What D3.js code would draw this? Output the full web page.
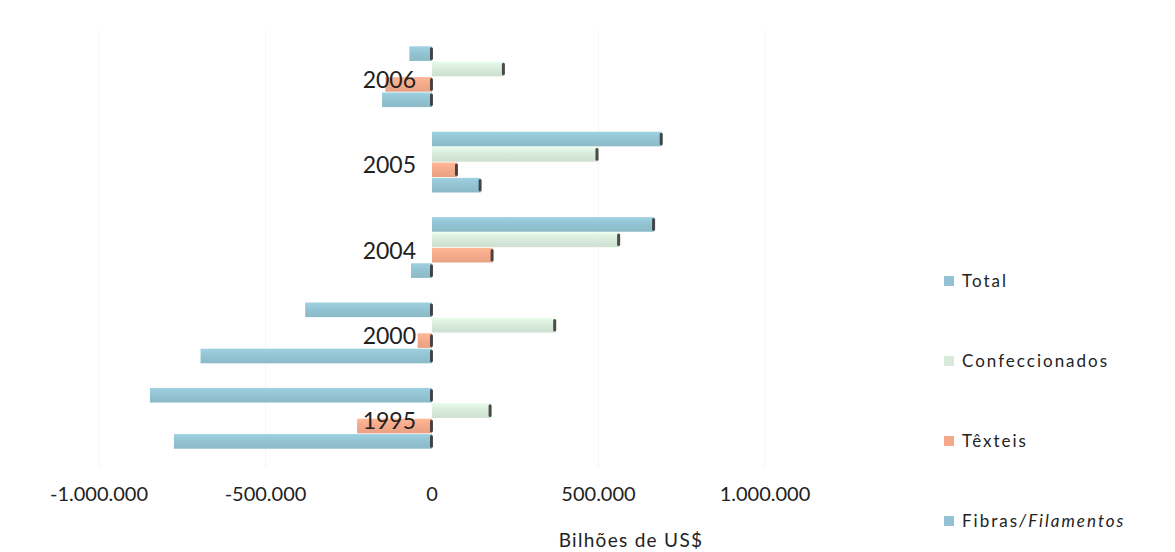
<!DOCTYPE html>
<html lang="pt">
<head>
<meta charset="utf-8">
<script src="https://cdn.jsdelivr.net/npm/d3@7"></script>
<style>
  html, body { margin: 0; padding: 0; background: #fff; }
  svg { display: block; font-family: Lato, "Open Sans", sans-serif; }
</style>
</head>
<body>
<svg id="chart" width="1175" height="552"></svg>
<script>
// Balança comercial da cadeia têxtil por segmento (Bilhões de US$)
const years = ["2006", "2005", "2004", "2000", "1995"];
const seriesNames = ["Total", "Confeccionados", "Têxteis", "Fibras/Filamentos"];
const total          = [-68000, 690000, 667000, -381000, -847000];
const confeccionados = [216000, 497000, 562000, 370000, 176000];
const texteis        = [-140000, 75000, 182000, -43000, -225000];
const fibras         = [-150000, 146000, -63000, -695000, -775000];
const tickValues = [-1000000, -500000, 0, 500000, 1000000];
const axisTitle = "Bilhões de US$";

const seriesValues = [total, confeccionados, texteis, fibras];
const colors = ["#93c3d2", "#d8ebdb", "#f4aa8a", "#93c3d2"];

const rows = [];
years.forEach((yr, i) => {
  seriesNames.forEach((s, j) => {
    rows.push({ year: yr, series: s, value: seriesValues[j][i], color: colors[j] });
  });
});

const svg = d3.select("#chart");

const x = d3.scaleLinear().domain([-1000000, 1000000]).range([99, 765]);
const y = d3.scaleBand().domain(years).range([34, 461]).paddingInner(0.27).paddingOuter(0.135);
const ySub = d3.scaleBand().domain(seriesNames).range([0, y.bandwidth()]).padding(0.05);

const locale = d3.formatLocale({ decimal: ",", thousands: ".", grouping: [3], currency: ["US$", ""], minus: "-" });
const fmt = locale.format(",.0f");

// gradients give the bars a rounded, shaded look
const defs = svg.append("defs");
colors.forEach((c, j) => {
  const g = defs.append("linearGradient").attr("id", "grad" + j)
    .attr("x1", 0).attr("y1", 0).attr("x2", 0).attr("y2", 1);
  const base = d3.color(c);
  g.append("stop").attr("offset", "0%").attr("stop-color", base.brighter(0.2));
  g.append("stop").attr("offset", "50%").attr("stop-color", base);
  g.append("stop").attr("offset", "100%").attr("stop-color", base.darker(0.15));
});

// faint vertical gridlines
svg.append("g").selectAll("line")
  .data(tickValues.filter(v => v !== 0))
  .join("line")
  .attr("x1", d => x(d)).attr("x2", d => x(d))
  .attr("y1", 30).attr("y2", 468)
  .attr("stroke", "#f5f5f5").attr("stroke-width", 1);

// bars
const groups = svg.append("g").selectAll("g")
  .data(years)
  .join("g")
  .attr("transform", d => `translate(0,${y(d)})`);

groups.each(function(yr) {
  const g = d3.select(this);
  const data = rows.filter(r => r.year === yr);
  g.selectAll("rect.bar")
    .data(data)
    .join("rect")
    .attr("class", "bar")
    .attr("x", d => x(Math.min(0, d.value)))
    .attr("width", d => Math.abs(x(d.value) - x(0)))
    .attr("y", d => ySub(d.series))
    .attr("height", ySub.bandwidth())
    .attr("fill", d => "url(#grad" + seriesNames.indexOf(d.series) + ")");
  // dark end caps on the right side of each bar
  g.selectAll("rect.cap")
    .data(data)
    .join("rect")
    .attr("class", "cap")
    .attr("x", d => x(Math.max(0, d.value)) - 2)
    .attr("width", 3)
    .attr("y", d => ySub(d.series) + 1)
    .attr("height", ySub.bandwidth() - 2)
    .attr("rx", 1.5)
    .attr("fill", "#2e2e2e")
    .attr("opacity", 0.85);
});

// year labels, drawn over the bars
svg.append("g").selectAll("text")
  .data(years)
  .join("text")
  .attr("x", 416)
  .attr("y", d => y(d) + y.bandwidth() / 2 + 11)
  .attr("text-anchor", "end")
  .attr("font-size", 23)
  .attr("fill", "#222")
  .text(d => d);

// x axis tick labels
svg.append("g").selectAll("text")
  .data(tickValues)
  .join("text")
  .attr("x", d => x(d))
  .attr("y", 501)
  .attr("text-anchor", "middle")
  .attr("font-size", 20)
  .attr("fill", "#222")
  .text(d => fmt(d));

svg.append("text")
  .attr("x", 631)
  .attr("y", 547)
  .attr("text-anchor", "middle")
  .attr("font-size", 19)
  .attr("letter-spacing", 1.3)
  .attr("fill", "#222")
  .text(axisTitle);

// legend
const ly = d3.scalePoint().domain(seriesNames).range([281, 521]);
const legend = svg.append("g").selectAll("g")
  .data(seriesNames)
  .join("g")
  .attr("transform", d => `translate(944,${ly(d)})`);
legend.append("rect")
  .attr("x", 0).attr("y", -5).attr("width", 10).attr("height", 10)
  .attr("fill", (d, i) => colors[i]);
legend.append("text")
  .attr("x", 18).attr("y", 6)
  .attr("font-size", 17)
  .attr("letter-spacing", 2)
  .attr("fill", "#222")
  .each(function(d) {
    const t = d3.select(this);
    const parts = d.split("/");
    t.append("tspan").text(parts[0]);
    if (parts.length > 1) {
      t.append("tspan").attr("font-style", "italic").text("/" + parts[1]);
    }
  });
</script>
</body>
</html>
